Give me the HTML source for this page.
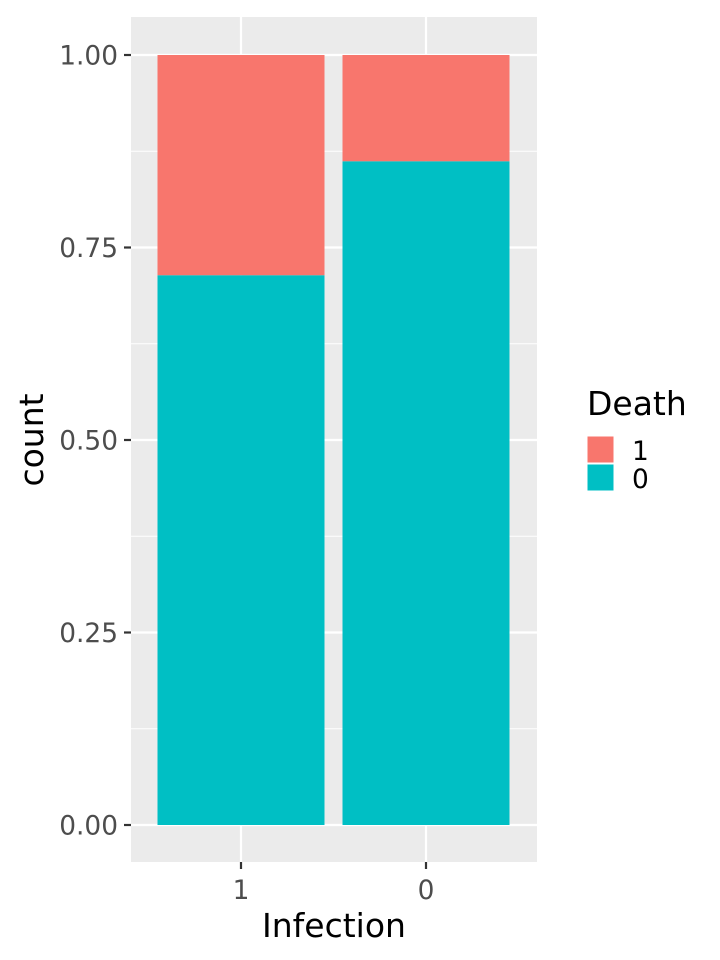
<!DOCTYPE html>
<html><head><meta charset="utf-8"><style>
html,body{margin:0;padding:0;background:#fff;}
svg{display:block;font-family:"DejaVu Sans","Liberation Sans",sans-serif;}
</style></head><body>
<svg id="chart" width="720" height="960" viewBox="0 0 720 960" xmlns="http://www.w3.org/2000/svg">
<rect x="131" y="17" width="406" height="845" fill="#ebebeb"/>
<g id="grid"></g>
<g id="bars"></g>
<g id="axes"></g>
<text transform="translate(43,440) rotate(-90)" text-anchor="middle" font-size="33" fill="#000">count</text>
<text x="334" y="937" text-anchor="middle" font-size="33" fill="#000">Infection</text>
<g>
<text x="587" y="415" font-size="33" fill="#000">Death</text>
<rect x="587" y="436" width="27" height="27" fill="#F8766D" stroke="#fff" stroke-width="1"/>
<text x="632" y="460" font-size="26.4" fill="#000">1</text>
<rect x="587" y="464" width="27" height="27" fill="#00BFC4" stroke="#fff" stroke-width="1"/>
<text x="632" y="488" font-size="26.4" fill="#000">0</text>
</g>
</svg>
<script>
const categories = ["1", "0"];
const death1Share = [0.286, 0.138];
const death0Share = [0.714, 0.862];
const yTicks = [0, 0.25, 0.5, 0.75, 1.0];
const yTickLabels = ["0.00", "0.25", "0.50", "0.75", "1.00"];

const NS = "http://www.w3.org/2000/svg";
const panelL = 131, panelR = 537, y0px = 825, y1px = 55;
function yScale(v){ return y0px + (y1px - y0px) * v; }
const step = 185, bw = 167;
function xScale(i){ return 241 + i * step; }
function mk(tag, attrs, parent){ const e = document.createElementNS(NS, tag); for (const k in attrs) e.setAttribute(k, attrs[k]); parent.appendChild(e); return e; }

const grid = document.getElementById("grid");
for (let i = 0; i < yTicks.length - 1; i++) {
  const y = yScale((yTicks[i] + yTicks[i+1]) / 2);
  const l = mk("line", {x1: panelL, x2: panelR, y1: y, y2: y, stroke: "#fff", "stroke-width": 1.1}, grid);
  
  
}
yTicks.forEach(v => {
  const y = yScale(v);
  const l = mk("line", {x1: panelL, x2: panelR, y1: y, y2: y, stroke: "#fff", "stroke-width": 2.2}, grid);
  
  
});
categories.forEach((c, i) => {
  const x = xScale(i);
  const l = mk("line", {x1: x, x2: x, y1: 17, y2: 862, stroke: "#fff", "stroke-width": 2.2}, grid);
  
  
});

const bars = document.getElementById("bars");
categories.forEach((c, i) => {
  const x = xScale(i) - bw / 2;
  const b0 = death0Share[i], b1 = death1Share[i];
  const r0 = mk("rect", {x: x, width: bw, y: yScale(b0), height: yScale(0) - yScale(b0), fill: "#00BFC4"}, bars);
  
  
  const r1 = mk("rect", {x: x, width: bw, y: yScale(b0 + b1), height: yScale(b0) - yScale(b0 + b1), fill: "#F8766D"}, bars);
  
  
});

const axes = document.getElementById("axes");
yTicks.forEach((v, i) => {
  const y = yScale(v);
  const t = mk("line", {x1: 124, x2: 131, y1: y, y2: y, stroke: "#333", "stroke-width": 2.2}, axes);
  
  
  const lab = mk("text", {x: 118, y: y + 9.5, "text-anchor": "end", "font-size": 26.4, fill: "#4d4d4d"}, axes);
  lab.textContent = yTickLabels[i];
  
  
});
categories.forEach((c, i) => {
  const x = xScale(i);
  const t = mk("line", {x1: x, x2: x, y1: 862, y2: 869, stroke: "#333", "stroke-width": 2.2}, axes);
  
  
  const lab = mk("text", {x: x, y: 899, "text-anchor": "middle", "font-size": 26.4, fill: "#4d4d4d"}, axes);
  lab.textContent = c;
  
  
});
</script>
</body></html>
